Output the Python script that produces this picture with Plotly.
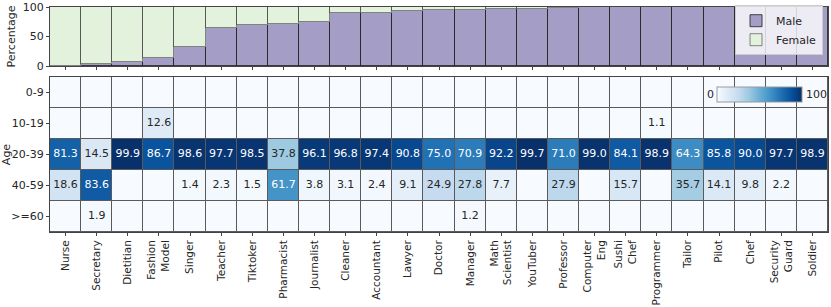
import plotly.graph_objects as go

occupations = ["Nurse", "Secretary", "Dietitian", "Fashion<br>Model", "Singer", "Teacher",
               "Tiktoker", "Pharmacist", "Journalist", "Cleaner", "Accountant", "Lawyer",
               "Doctor", "Manager", "Math<br>Scientist", "YouTuber", "Professor",
               "Computer<br>Eng", "Sushi<br>Chef", "Programmer", "Tailor", "Pilot", "Chef",
               "Security<br>Guard", "Soldier"]

male_pct = [0.5, 3, 7, 14, 33, 64, 69.5, 71.5, 74, 89, 90.5, 93.5,
            95, 95.5, 96, 97, 98.5, 99.5, 99.8, 100, 100, 100, 100, 100, 100]
female_pct = [99.5, 97, 93, 86, 67, 36, 30.5, 28.5, 26, 11, 9.5, 6.5,
              5, 4.5, 4, 3, 1.5, 0.5, 0.2, 0, 0, 0, 0, 0, 0]

age_groups = ["0-9", "10-19", "20-39", "40-59", ">=60"]
age_0_9 = [0, 0, 0, 0, 0, 0, 0, 0, 0, 0, 0, 0, 0, 0, 0, 0, 0, 0, 0, 0, 0, 0, 0, 0, 0]
age_10_19 = [0, 0, 0, 12.6, 0, 0, 0, 0, 0, 0, 0, 0, 0, 0, 0, 0, 0, 0, 0, 1.1, 0, 0, 0, 0, 0]
age_20_39 = [81.3, 14.5, 99.9, 86.7, 98.6, 97.7, 98.5, 37.8, 96.1, 96.8, 97.4, 90.8,
             75.0, 70.9, 92.2, 99.7, 71.0, 99.0, 84.1, 98.9, 64.3, 85.8, 90.0, 97.7, 98.9]
age_40_59 = [18.6, 83.6, 0, 0, 1.4, 2.3, 1.5, 61.7, 3.8, 3.1, 2.4, 9.1,
             24.9, 27.8, 7.7, 0, 27.9, 0, 15.7, 0, 35.7, 14.1, 9.8, 2.2, 0]
age_60_plus = [0, 1.9, 0, 0, 0, 0, 0, 0, 0, 0, 0, 0, 0, 1.2, 0, 0, 0, 0, 0, 0, 0, 0, 0, 0, 0]

age_rows = [age_0_9, age_10_19, age_20_39, age_40_59, age_60_plus]

blues = [[0.0, "rgb(247,251,255)"], [0.125, "rgb(222,235,247)"], [0.25, "rgb(198,219,239)"],
         [0.375, "rgb(158,202,225)"], [0.5, "rgb(107,174,214)"], [0.625, "rgb(66,146,198)"],
         [0.75, "rgb(33,113,181)"], [0.875, "rgb(8,81,156)"], [1.0, "rgb(8,48,107)"]]

FONT = "DejaVu Sans"
TXT = "#262626"
LINE = "rgba(40,40,40,0.85)"

fig = go.Figure()

fig.add_trace(go.Bar(x=occupations, y=male_pct, name="Male", width=1,
                     marker=dict(color="#a49dc6", line=dict(color=LINE, width=1)),
                     xaxis="x", yaxis="y"))
fig.add_trace(go.Bar(x=occupations, y=female_pct, name="Female", width=1,
                     marker=dict(color="#e3f2dd", line=dict(color="rgba(60,60,60,0.6)", width=1)),
                     xaxis="x", yaxis="y"))

fig.add_trace(go.Heatmap(z=age_rows, x=occupations, y=age_groups, zmin=0, zmax=100,
                         colorscale=blues, xgap=1, ygap=1, xaxis="x2", yaxis="y2",
                         hoverinfo="skip", showlegend=False,
                         colorbar=dict(orientation="h", x=0.912, xanchor="center",
                                       y=0.644, yanchor="top", len=85, lenmode="pixels",
                                       thickness=15, thicknessmode="pixels",
                                       xpad=0, ypad=0, showticklabels=False, ticks="",
                                       outlinewidth=1, outlinecolor="#999")))

tx, ty, tt, tc = [], [], [], []
for g, row in zip(age_groups, age_rows):
    for o, v in zip(occupations, row):
        if v >= 1:
            tx.append(o)
            ty.append(g)
            tt.append(f"{v:.1f}")
            tc.append("white" if v > 50 else TXT)
fig.add_trace(go.Scatter(x=tx, y=ty, text=tt, mode="text", xaxis="x2", yaxis="y2",
                         textfont=dict(family=FONT, size=11, color=tc),
                         hoverinfo="skip", showlegend=False))

axis_common = dict(showline=True, linecolor="#444", linewidth=1, mirror=True,
                   ticks="outside", ticklen=3, tickcolor="#444", showgrid=False,
                   zeroline=False, automargin=False)
tick_font = dict(family=FONT, size=11, color=TXT)

fig.update_layout(
    width=831, height=307,
    margin=dict(l=50, r=3, t=7, b=75, autoexpand=False),
    paper_bgcolor="white", plot_bgcolor="#5a5a5a",
    barmode="stack", bargap=0,
    font=dict(family=FONT, size=11, color=TXT),
    xaxis=dict(domain=[0, 1], anchor="y", showticklabels=False, categoryorder="array",
               categoryarray=occupations, range=[-0.5, 24.5], tickfont=tick_font, **axis_common),
    yaxis=dict(domain=[0.7378, 1], anchor="x", range=[0, 100], tickvals=[0, 50, 100],
               tickfont=tick_font,
               title=dict(text="Percentage", font=dict(family=FONT, size=11, color=TXT), standoff=4),
               **axis_common),
    xaxis2=dict(domain=[0, 1], anchor="y2", tickangle=-90, categoryorder="array",
                categoryarray=occupations, range=[-0.5, 24.5],
                tickfont=dict(family=FONT, size=10.5, color=TXT), **axis_common),
    yaxis2=dict(domain=[0, 0.6889], anchor="x2", categoryorder="array",
                categoryarray=age_groups, range=[4.5, -0.5], tickfont=tick_font,
                title=dict(text="Age", font=dict(family=FONT, size=11, color=TXT), standoff=4),
                **axis_common),
    legend=dict(x=0.9936, xanchor="right", y=1.008, yanchor="top", traceorder="normal",
                bgcolor="rgba(255,255,255,0.8)", bordercolor="#ccc", borderwidth=1,
                font=dict(family=FONT, size=11, color=TXT), tracegroupgap=0),
)

fig.add_annotation(x=0.856, y=0.612, xref="paper", yref="paper", text="0", showarrow=False,
                   xanchor="right", yanchor="middle", font=dict(family=FONT, size=11, color=TXT))
fig.add_annotation(x=0.969, y=0.612, xref="paper", yref="paper", text="100", showarrow=False,
                   xanchor="left", yanchor="middle", font=dict(family=FONT, size=11, color=TXT))

fig.write_html("out.html", config={"displayModeBar": False},
               post_script="document.body.style.margin='0';document.body.style.overflow='hidden';")
